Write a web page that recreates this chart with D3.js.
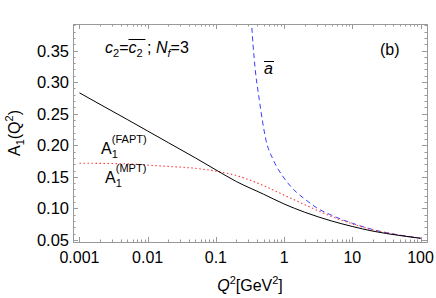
<!DOCTYPE html>
<html>
<head>
<meta charset="utf-8">
<script src="https://cdn.jsdelivr.net/npm/d3@7"></script>
<style>
  body { margin: 0; background: #fff; }
  text { font-family: "Liberation Sans", Arial, sans-serif; fill: #000; }
</style>
</head>
<body>
<div id="chart"></div>
<script>
var width_chart = 436,
    height_chart = 298;

// Q^2 values in GeV^2 and the three curves
var q2_fapt = [0.001, 0.002, 0.005, 0.01, 0.02, 0.05, 0.1, 0.2, 0.5, 1, 2, 5, 10, 20, 50, 100];
var a_fapt  = [0.283, 0.2648, 0.2409, 0.2225, 0.2042, 0.180, 0.161, 0.1425, 0.1225, 0.107, 0.094, 0.080, 0.0714, 0.064, 0.057, 0.0527];

var q2_mpt = [0.001, 0.002, 0.005, 0.01, 0.02, 0.05, 0.1, 0.2, 0.5, 1, 2, 5, 10, 20, 50, 100];
var a_mpt  = [0.1715, 0.1713, 0.1705, 0.1685, 0.1665, 0.1635, 0.159, 0.152, 0.136, 0.121, 0.106, 0.087, 0.0755, 0.066, 0.0575, 0.0527];

var q2_abar = [0.32, 0.335, 0.366, 0.433, 0.543, 0.7, 1, 1.5, 2, 3, 5, 10, 20, 50, 100];
var a_abar  = [0.44, 0.392, 0.335, 0.272, 0.208, 0.176, 0.148, 0.126, 0.115, 0.101, 0.089, 0.0765, 0.0665, 0.0577, 0.0527];

var x_ticks = [0.001, 0.01, 0.1, 1, 10, 100];
var x_tick_labels = ["0.001", "0.01", "0.1", "1", "10", "100"];
var y_ticks = [0.05, 0.10, 0.15, 0.20, 0.25, 0.30, 0.35];

var left = 73, right = 427, top_ = 24, bottom = 242;

var x = d3.scaleLog().domain([Math.pow(10, -3.095), Math.pow(10, 2.095)]).range([left, right]);
var y = d3.scaleLinear().domain([0.0468, 0.392]).range([bottom, top_]);

var svg = d3.select("#chart").append("svg")
    .attr("width", width_chart)
    .attr("height", height_chart);

svg.append("defs").append("clipPath").attr("id", "clip")
  .append("rect")
    .attr("x", left).attr("y", top_)
    .attr("width", right - left).attr("height", bottom - top_);

// minor ticks
var x_minor = [];
for (var e = -3; e <= 2; e++) {
  for (var m = 2; m <= 9; m++) {
    x_minor.push(m * Math.pow(10, e));
  }
}
x_minor = x_minor.filter(function(v) { return x(v) > left && x(v) < right; });
var y_minor = d3.range(5, 40).map(function(i) { return i / 100; })
  .filter(function(v) { return y(v) < bottom && y(v) > top_; });

var tick_color = "#999";

function tickline(x1, y1, x2, y2) {
  svg.append("line")
    .attr("x1", x1).attr("y1", y1).attr("x2", x2).attr("y2", y2)
    .attr("stroke", tick_color).attr("stroke-width", 1);
}

x_minor.forEach(function(v) {
  var px = Math.round(x(v)) + 0.5;
  tickline(px, bottom, px, bottom - 2.5);
  tickline(px, top_, px, top_ + 2.5);
});
x_ticks.forEach(function(v) {
  var px = Math.round(x(v)) + 0.5;
  tickline(px, bottom, px, bottom - 5);
  tickline(px, top_, px, top_ + 5);
});
y_minor.forEach(function(v) {
  var py = Math.round(y(v)) + 0.5;
  tickline(left, py, left + 2.5, py);
  tickline(right, py, right - 2.5, py);
});
y_ticks.forEach(function(v) {
  var py = Math.round(y(v)) + 0.5;
  tickline(left, py, left + 5, py);
  tickline(right, py, right - 5, py);
});

// frame
svg.append("rect")
  .attr("x", left + 0.5).attr("y", top_ + 0.5)
  .attr("width", right - left).attr("height", bottom - top_)
  .attr("fill", "none").attr("stroke", tick_color).attr("stroke-width", 1);

// tick labels
svg.selectAll("text.xlab")
  .data(x_ticks)
  .enter().append("text")
  .attr("class", "xlab")
  .attr("x", function(d) { return x(d); })
  .attr("y", 263)
  .attr("text-anchor", "middle")
  .style("font-size", "16px")
  .text(function(d, i) { return x_tick_labels[i]; });

svg.selectAll("text.ylab")
  .data(y_ticks)
  .enter().append("text")
  .attr("class", "ylab")
  .attr("x", 69)
  .attr("y", function(d) { return y(d) + 6; })
  .attr("text-anchor", "end")
  .style("font-size", "16.5px")
  .text(function(d) { return d.toFixed(2); });

// curves
var line = d3.line()
  .x(function(d) { return x(d[0]); })
  .y(function(d) { return y(d[1]); })
  .curve(d3.curveMonotoneX);

var plot = svg.append("g").attr("clip-path", "url(#clip)");

plot.append("path")
  .datum(d3.zip(q2_abar, a_abar))
  .attr("d", line)
  .attr("fill", "none")
  .attr("stroke", "#3b3bff")
  .attr("stroke-width", 1)
  .attr("stroke-dasharray", "5,3.5");

plot.append("path")
  .datum(d3.zip(q2_mpt, a_mpt))
  .attr("d", line)
  .attr("fill", "none")
  .attr("stroke", "#ff3b3b")
  .attr("stroke-width", 1.1)
  .attr("stroke-dasharray", "1.5,2.5");

plot.append("path")
  .datum(d3.zip(q2_fapt, a_fapt))
  .attr("d", line)
  .attr("fill", "none")
  .attr("stroke", "#000")
  .attr("stroke-width", 1);

// axis titles
var ylab = svg.append("text")
  .attr("transform", "translate(20,133) rotate(-90)")
  .attr("text-anchor", "middle")
  .style("font-size", "16px");
ylab.append("tspan").text("A");
ylab.append("tspan").attr("dy", 4).style("font-size", "11px").text("1");
ylab.append("tspan").attr("dy", -4).text("(Q");
ylab.append("tspan").attr("dy", -7).style("font-size", "11px").text("2");
ylab.append("tspan").attr("dy", 7).text(")");

var xlab = svg.append("text")
  .attr("x", 250).attr("y", 291)
  .attr("text-anchor", "middle")
  .style("font-size", "16px");
xlab.append("tspan").style("font-style", "italic").text("Q");
xlab.append("tspan").attr("dy", -7).style("font-size", "11px").text("2");
xlab.append("tspan").attr("dy", 7).text("[GeV");
xlab.append("tspan").attr("dy", -7).style("font-size", "11px").text("2");
xlab.append("tspan").attr("dy", 7).text("]");

// annotations
var t1 = svg.append("text").attr("x", 105).attr("y", 53).style("font-size", "16px");
t1.append("tspan").style("font-style", "italic").text("c");
t1.append("tspan").attr("dy", 4).style("font-size", "11px").text("2");
t1.append("tspan").attr("dy", -4).text("=");
t1.append("tspan").style("font-style", "italic").attr("id", "cbar").text("c");
t1.append("tspan").attr("dy", 4).style("font-size", "11px").text("2");
t1.append("tspan").attr("dy", -4).text(" ; ");
t1.append("tspan").style("font-style", "italic").text("N");
t1.append("tspan").attr("dy", 4).style("font-size", "11px").style("font-style", "italic").text("f");
t1.append("tspan").attr("dy", -4).text("=3");

// overline over the second c_2
var cb = svg.select("#cbar").node();
var cb_x = cb.getStartPositionOfChar(0).x;
svg.append("line")
  .attr("x1", cb_x).attr("x2", cb_x + 17)
  .attr("y1", 39.5).attr("y2", 39.5)
  .attr("stroke", "#000").attr("stroke-width", 1);

svg.append("text").attr("x", 380).attr("y", 55).style("font-size", "16px").text("(b)");

svg.append("text").attr("x", 264).attr("y", 74)
  .style("font-size", "16px").style("font-style", "italic").text("a");
svg.append("line")
  .attr("x1", 264).attr("x2", 274).attr("y1", 61.5).attr("y2", 61.5)
  .attr("stroke", "#000").attr("stroke-width", 1);

var fapt = svg.append("text").attr("x", 101).attr("y", 154).style("font-size", "16px");
fapt.append("tspan").text("A");
fapt.append("tspan").attr("dy", 4).style("font-size", "11px").text("1");
fapt.append("tspan").attr("dx", -6).attr("dy", -15).style("font-size", "11px").text("(FAPT)");

var mpt = svg.append("text").attr("x", 105).attr("y", 183).style("font-size", "16px");
mpt.append("tspan").text("A");
mpt.append("tspan").attr("dy", 4).style("font-size", "11px").text("1");
mpt.append("tspan").attr("dx", -6).attr("dy", -15).style("font-size", "11px").text("(MPT)");
</script>
</body>
</html>
